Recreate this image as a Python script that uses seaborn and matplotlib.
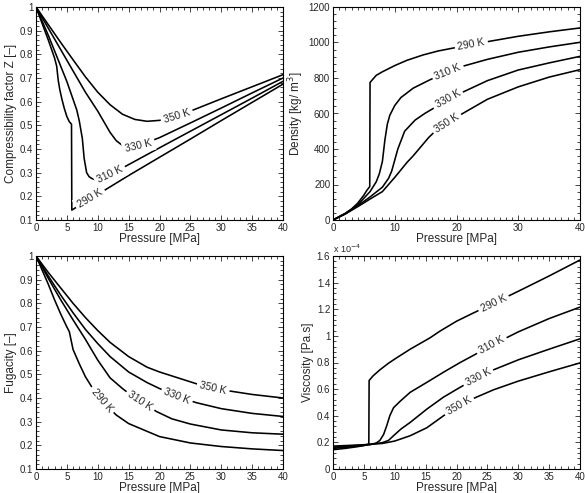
import numpy as np
import pandas as pd
import matplotlib
matplotlib.use("Agg")
import matplotlib.pyplot as plt
from matplotlib.ticker import MultipleLocator
import seaborn as sns

temps = ["290 K", "310 K", "330 K", "350 K"]

# compressibility factor Z vs pressure [MPa]
z_p = {
    "290 K": [0, 1, 2, 3, 3.35, 3.6, 3.86, 4.2, 4.6, 5.0, 5.4, 5.75, 5.8, 8, 11.5, 15, 20, 25, 30, 35, 40],
    "310 K": [0, 1, 2, 3, 4, 5, 6, 6.6, 7, 7.5, 7.8, 8.2, 8.6, 9, 9.6, 10, 12, 15, 20, 25, 30, 35, 40],
    "330 K": [0, 2, 4, 6, 7, 8, 9, 10, 11, 12, 13, 14, 15, 16.6, 18, 20, 25, 30, 35, 40],
    "350 K": [0, 2, 4, 6, 8, 10, 12, 14, 16, 18, 20, 22.5, 25, 30, 35, 40],
}
z_val = {
    "290 K": [1.0, 0.93, 0.86, 0.785, 0.75, 0.69, 0.65, 0.61, 0.57, 0.537, 0.515, 0.505, 0.142, 0.177, 0.232, 0.288, 0.365, 0.442, 0.52, 0.597, 0.674],
    "310 K": [1.0, 0.94, 0.88, 0.815, 0.75, 0.685, 0.61, 0.565, 0.52, 0.445, 0.36, 0.3, 0.283, 0.276, 0.27, 0.27, 0.292, 0.334, 0.405, 0.475, 0.545, 0.615, 0.686],
    "330 K": [1.0, 0.91, 0.82, 0.73, 0.685, 0.64, 0.6, 0.56, 0.515, 0.47, 0.435, 0.415, 0.41, 0.415, 0.428, 0.448, 0.51, 0.573, 0.637, 0.70],
    "350 K": [1.0, 0.925, 0.85, 0.777, 0.705, 0.64, 0.587, 0.547, 0.525, 0.517, 0.521, 0.538, 0.56, 0.612, 0.663, 0.714],
}
z_lab = {"290 K": 8.8, "310 K": 12.0, "330 K": 16.6, "350 K": 22.8}

# density [kg/m3]
rho_p = {
    "290 K": [0, 2, 3, 4, 5, 5.5, 5.95, 6.0, 7, 8, 10, 12, 14.6, 17, 19.5, 22.4, 25.4, 30, 35, 40],
    "310 K": [0, 2, 4, 6, 7, 7.5, 8, 8.4, 8.8, 9.2, 10, 11, 13, 15.7, 18.6, 21, 25, 30, 35, 40],
    "330 K": [0, 2, 4, 6, 8, 9, 9.5, 10.5, 11.6, 13.3, 14.9, 16.5, 18.6, 21, 25, 30, 35, 40],
    "350 K": [0, 2, 4, 6, 8, 10, 12, 13, 15.5, 17, 18.4, 21, 25, 30, 35, 40],
}
rho_val = {
    "290 K": [0, 38, 62, 95, 140, 168, 188, 775, 815, 835, 870, 900, 930, 952, 969, 988, 1007, 1035, 1060, 1082],
    "310 K": [0, 36, 85, 160, 215, 260, 330, 450, 540, 590, 645, 690, 743, 790, 835, 866, 905, 945, 975, 1001],
    "330 K": [0, 35, 80, 130, 185, 235, 275, 400, 500, 563, 601, 634, 680, 720, 785, 845, 885, 922],
    "350 K": [0, 34, 75, 118, 160, 240, 325, 362, 465, 515, 548, 600, 680, 750, 805, 847],
}
rho_lab = {"290 K": 22.4, "310 K": 18.6, "330 K": 18.6, "350 K": 18.4}

# fugacity [-]
f_p = {
    "290 K": [0, 1, 2, 3, 4, 5, 5.4, 6, 7, 8, 9, 11, 13, 15, 20, 25, 30, 35, 40],
    "310 K": [0, 2, 4, 6, 8, 10, 12, 14, 15, 17, 19.5, 22, 25, 30, 35, 40],
    "330 K": [0, 2, 4, 6, 8, 10, 12, 15, 18, 20, 23, 26, 30, 35, 40],
    "350 K": [0, 2, 4, 6, 8, 10, 12, 15, 18, 20, 23, 26, 30, 35, 40],
}
f_val = {
    "290 K": [1.0, 0.94, 0.88, 0.815, 0.755, 0.7, 0.68, 0.605, 0.545, 0.49, 0.448, 0.38, 0.328, 0.292, 0.237, 0.21, 0.195, 0.185, 0.178],
    "310 K": [1.0, 0.905, 0.815, 0.73, 0.648, 0.56, 0.485, 0.44, 0.42, 0.385, 0.343, 0.312, 0.29, 0.265, 0.253, 0.247],
    "330 K": [1.0, 0.915, 0.835, 0.76, 0.69, 0.63, 0.575, 0.51, 0.465, 0.44, 0.405, 0.38, 0.355, 0.335, 0.322],
    "350 K": [1.0, 0.93, 0.865, 0.8, 0.74, 0.685, 0.635, 0.575, 0.53, 0.51, 0.485, 0.46, 0.435, 0.415, 0.40],
}
f_lab = {"290 K": 10.7, "310 K": 16.9, "330 K": 22.8, "350 K": 28.7}

# viscosity [x 1e-4 Pa.s]
mu_p = {
    "290 K": [0, 2, 4, 5, 5.5, 5.8, 5.85, 6.5, 7.6, 9, 10.3, 12.5, 15.7, 17.3, 20, 22.2, 26, 30, 35, 40],
    "310 K": [0, 2, 4, 6, 7, 7.6, 8.2, 8.7, 9.2, 9.8, 10.9, 12.5, 15.2, 18, 20.6, 23, 25.7, 30, 35, 40],
    "330 K": [0, 2, 4, 6, 8, 9, 9.8, 11, 12.5, 15.2, 17.9, 20.6, 23.5, 26, 30, 35, 40],
    "350 K": [0, 2, 4, 6, 8, 10, 12.5, 15.2, 17.9, 20.4, 23, 26, 30, 35, 40],
}
mu_val = {
    "290 K": [0.145, 0.155, 0.168, 0.176, 0.183, 0.188, 0.665, 0.70, 0.745, 0.795, 0.835, 0.9, 0.985, 1.035, 1.11, 1.16, 1.245, 1.335, 1.45, 1.57],
    "310 K": [0.155, 0.163, 0.172, 0.183, 0.195, 0.215, 0.26, 0.325, 0.4, 0.46, 0.51, 0.576, 0.651, 0.73, 0.80, 0.86, 0.93, 1.03, 1.13, 1.216],
    "330 K": [0.163, 0.17, 0.177, 0.185, 0.198, 0.215, 0.25, 0.3, 0.35, 0.45, 0.54, 0.614, 0.69, 0.745, 0.82, 0.90, 0.978],
    "350 K": [0.172, 0.176, 0.18, 0.185, 0.192, 0.21, 0.25, 0.31, 0.40, 0.475, 0.535, 0.595, 0.66, 0.73, 0.797],
}
mu_lab = {"290 K": 26.0, "310 K": 25.7, "330 K": 23.5, "350 K": 20.4}

sns.set_style("ticks")
plt.rcParams["font.family"] = ["Liberation Sans", "DejaVu Sans"]
plt.rcParams["xtick.direction"] = "in"
plt.rcParams["ytick.direction"] = "in"

fig = plt.figure(figsize=(5.85, 4.93), dpi=100)
W, H = 247 / 585, 213 / 493
ax_z = fig.add_axes([36 / 585, 273 / 493, W, H])
ax_r = fig.add_axes([333 / 585, 273 / 493, W, H])
ax_f = fig.add_axes([36 / 585, 24 / 493, W, H])
ax_m = fig.add_axes([333 / 585, 24 / 493, W, H])


def draw(ax, xs, ys, labs):
    for t in temps:
        df = pd.DataFrame({"P": xs[t], "v": ys[t]})
        sns.lineplot(data=df, x="P", y="v", color="black", lw=1.15,
                     estimator=None, sort=False, ax=ax)
        # inline contour-style label sitting on the curve
        p0 = labs[t]
        y0 = np.interp(p0, xs[t], ys[t])
        ya = np.interp(p0 - 1.5, xs[t], ys[t])
        yb = np.interp(p0 + 1.5, xs[t], ys[t])
        ang = np.degrees(np.arctan2(yb - ya, 3.0))
        ax.text(p0, y0, t, fontsize=7.5, ha="center", va="center",
                rotation=ang, rotation_mode="anchor", transform_rotates_text=True,
                bbox=dict(boxstyle="square,pad=0.3", fc="white", ec="none"),
                zorder=5)


def style(ax, ylim, ymaj, ymin, xmaj, xmin, ylabel):
    ax.set_xlim(0, 40)
    ax.set_ylim(*ylim)
    ax.xaxis.set_major_locator(MultipleLocator(xmaj))
    ax.xaxis.set_minor_locator(MultipleLocator(xmin))
    ax.yaxis.set_major_locator(MultipleLocator(ymaj))
    ax.yaxis.set_minor_locator(MultipleLocator(ymin))
    ax.tick_params(which="both", top=True, right=True, labelsize=7, pad=2, width=0.6)
    ax.tick_params(which="major", length=3.5)
    ax.tick_params(which="minor", length=2)
    ax.set_xlabel("Pressure [MPa]", fontsize=8.5, labelpad=0)
    ax.set_ylabel(ylabel, fontsize=8.5, labelpad=2)
    for s in ax.spines.values():
        s.set_linewidth(0.8)
        s.set_color("black")
    ax.yaxis.set_major_formatter(plt.FuncFormatter(lambda v, _: f"{v:g}"))


draw(ax_z, z_p, z_val, z_lab)
style(ax_z, (0.1, 1.0), 0.1, 0.02, 5, 1, "Compressibility factor Z [\u2013]")

draw(ax_r, rho_p, rho_val, rho_lab)
style(ax_r, (0, 1200), 200, 40, 10, 1, "Density [kg/ m$^3$]")

draw(ax_f, f_p, f_val, f_lab)
style(ax_f, (0.1, 1.0), 0.1, 0.02, 5, 1, "Fugacity [\u2013]")

draw(ax_m, mu_p, mu_val, mu_lab)
style(ax_m, (0, 1.6), 0.2, 0.04, 5, 1, "Viscosity [Pa.s]")
ax_m.text(0, 1.005, "x 10$^{-4}$", transform=ax_m.transAxes, fontsize=6.5,
          ha="left", va="bottom")

fig.savefig("out.png", dpi=100)
